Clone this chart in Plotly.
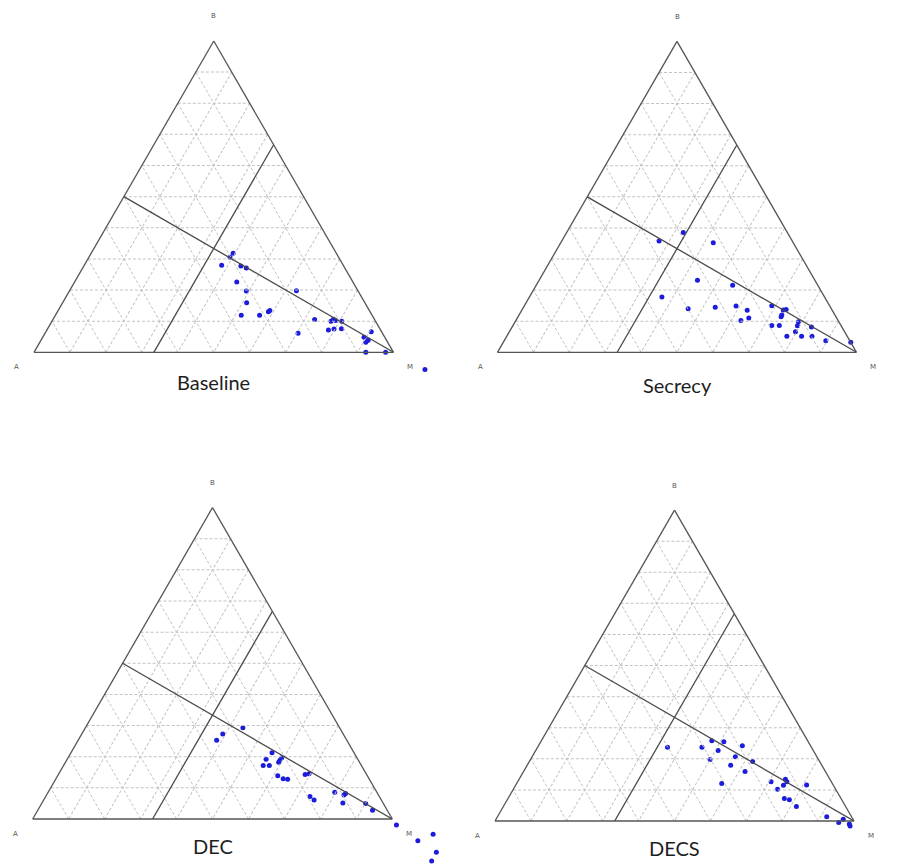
import math
import plotly.graph_objects as go

FIG_W, FIG_H = 901, 865

panel_names = ["Baseline", "Secrecy", "DEC", "DECS"]

# Ternary components per panel: A (bottom-left), B (top), M (bottom-right)
baseline_A = [0.287, 0.302, 0.338, 0.286, 0.274, 0.323, 0.311, 0.329, 0.364, 0.313, 0.283, 0.277, 0.171, 0.167, 0.235,
              0.145, 0.124, 0.114, 0.110, 0.094, 0.128, 0.107, 0.029, 0.058, 0.051, 0.061, 0.077, 0.022, -0.060]
baseline_B = [0.318, 0.305, 0.280, 0.277, 0.271, 0.226, 0.197, 0.159, 0.119, 0.119, 0.130, 0.134, 0.198, 0.105, 0.061,
              0.072, 0.100, 0.106, 0.102, 0.100, 0.075, 0.076, 0.066, 0.048, 0.039, 0.032, 0.000, 0.000, -0.055]
baseline_M = [0.395, 0.393, 0.382, 0.437, 0.455, 0.451, 0.492, 0.512, 0.517, 0.568, 0.587, 0.589, 0.631, 0.728, 0.704,
              0.783, 0.776, 0.780, 0.788, 0.806, 0.797, 0.817, 0.905, 0.894, 0.910, 0.907, 0.923, 0.978, 1.115]

secrecy_A = [0.290, 0.371, 0.223, 0.327, 0.237, 0.453, 0.399, 0.321, 0.261, 0.237, 0.245, 0.271, 0.161, 0.136,
             0.127, 0.148, 0.153, 0.193, 0.172, 0.113, 0.122, 0.085, 0.137, 0.168, 0.127, 0.098, 0.067, 0.000]
secrecy_B = [0.385, 0.358, 0.352, 0.232, 0.216, 0.178, 0.140, 0.145, 0.149, 0.135, 0.110, 0.102, 0.150, 0.136,
             0.138, 0.120, 0.114, 0.086, 0.086, 0.098, 0.085, 0.081, 0.066, 0.052, 0.052, 0.052, 0.037, 0.032]
secrecy_M = [0.325, 0.271, 0.425, 0.441, 0.547, 0.369, 0.461, 0.534, 0.590, 0.628, 0.645, 0.627, 0.689, 0.728,
             0.735, 0.732, 0.733, 0.721, 0.742, 0.789, 0.793, 0.834, 0.797, 0.780, 0.821, 0.850, 0.896, 0.968]

dec_A = [0.269, 0.335, 0.362, 0.228, 0.255, 0.209, 0.218, 0.225, 0.273, 0.256, 0.249, 0.239, 0.227, 0.171,
         0.159, 0.193, 0.187, 0.117, 0.096, 0.089, 0.112, 0.049, 0.041, -0.002, -0.036, -0.089, -0.069, -0.042]
dec_B = [0.293, 0.273, 0.253, 0.213, 0.192, 0.197, 0.189, 0.182, 0.172, 0.172, 0.139, 0.129, 0.128, 0.143,
         0.145, 0.072, 0.061, 0.086, 0.077, 0.082, 0.051, 0.050, 0.028, -0.019, -0.070, -0.049, -0.107, -0.135]
dec_M = [0.438, 0.392, 0.385, 0.559, 0.553, 0.594, 0.593, 0.593, 0.555, 0.572, 0.612, 0.632, 0.645, 0.686,
         0.696, 0.735, 0.752, 0.797, 0.827, 0.829, 0.837, 0.901, 0.931, 1.021, 1.106, 1.138, 1.176, 1.177]

decs_A = [0.401, 0.305, 0.267, 0.235, 0.265, 0.190, 0.302, 0.227, 0.254, 0.187, 0.224, 0.308, 0.168,
          0.124, 0.124, 0.139, 0.162, 0.074, 0.158, 0.146, 0.137, 0.069, 0.045, 0.027, 0.018, 0.019]
decs_B = [0.237, 0.237, 0.258, 0.255, 0.227, 0.242, 0.198, 0.207, 0.179, 0.191, 0.159, 0.121, 0.126,
          0.134, 0.126, 0.115, 0.102, 0.116, 0.072, 0.068, 0.047, 0.014, -0.005, 0.006, -0.010, -0.016]
decs_M = [0.362, 0.458, 0.475, 0.510, 0.508, 0.568, 0.500, 0.566, 0.567, 0.622, 0.617, 0.571, 0.706,
          0.742, 0.750, 0.746, 0.736, 0.810, 0.770, 0.786, 0.816, 0.917, 0.960, 0.967, 0.992, 0.997]

# Reference lines: A = B (from mid of A-B edge to M) and M = 1/3
line1_A = [0.5, 0.0]
line1_B = [0.5, 0.0]
line1_M = [0.0, 1.0]
line2_A = [2 / 3, 0.0]
line2_B = [0.0, 2 / 3]
line2_M = [1 / 3, 1 / 3]

panels = [
    (baseline_A, baseline_B, baseline_M),
    (secrecy_A, secrecy_B, secrecy_M),
    (dec_A, dec_B, dec_M),
    (decs_A, decs_B, decs_M),
]

# Triangle placement in pixels: (x of A corner, base y, side length)
geom = [
    (34.0, 352.3, 359.5),
    (497.5, 352.3, 359.0),
    (32.7, 819.0, 359.6),
    (495.0, 821.0, 359.0),
]
# Extent of the projected overlay axes (so outlying points stay visible)
xr = [(-0.05, 1.15), (-0.05, 1.05), (-0.05, 1.15), (-0.05, 1.05)]
yr = (-0.14, 1.02)
title_y = [382.5, 384.5, 846.0, 848.0]
S3 = math.sqrt(3) / 2

fig = go.Figure()
annotations = []
layout_kw = {}

for i, ((pa, pb, pm), (xa, yb, side)) in enumerate(zip(panels, geom)):
    h = side * S3
    yt = yb - h
    tid = "ternary" if i == 0 else f"ternary{i + 1}"
    for la, lb, lm in [(line1_A, line1_B, line1_M), (line2_A, line2_B, line2_M)]:
        fig.add_trace(go.Scatterternary(
            a=lb, b=la, c=lm, mode="lines", subplot=tid,
            line=dict(color="#4a4a4a", width=1.3), showlegend=False, hoverinfo="skip"))

    axis_common = dict(
        min=0, dtick=0.1, showticklabels=False, ticks="", title=dict(text=""),
        showgrid=True, gridcolor="#c2c2c2", gridwidth=1, griddash="3px,2px",
        showline=True, linecolor="#555555", linewidth=1.3, layer="below traces")
    layout_kw[tid] = dict(
        sum=1,
        domain=dict(x=[xa / FIG_W, (xa + side) / FIG_W], y=[1 - yb / FIG_H, 1 - yt / FIG_H]),
        bgcolor="rgba(0,0,0,0)",
        aaxis=axis_common, baxis=axis_common, caxis=axis_common)

    # Projected overlay axes for the scatter points (x = M + B/2, y = B)
    n = "" if i == 0 else str(i + 1)
    x0, x1 = xr[i]
    layout_kw[f"xaxis{n}"] = dict(
        range=[x0, x1], visible=False, fixedrange=True,
        domain=[(xa + x0 * side) / FIG_W, (xa + x1 * side) / FIG_W],
        anchor=f"y{n}")
    layout_kw[f"yaxis{n}"] = dict(
        range=list(yr), visible=False, fixedrange=True,
        domain=[max(0.0, 1 - (yb - yr[0] * h) / FIG_H), 1 - (yb - yr[1] * h) / FIG_H],
        anchor=f"x{n}")
    fig.add_trace(go.Scatter(
        x=[m + b / 2 for b, m in zip(pb, pm)], y=pb,
        customdata=list(zip(pa, pb, pm)),
        hovertemplate="A=%{customdata[0]}<br>B=%{customdata[1]}<br>M=%{customdata[2]}<extra></extra>",
        mode="markers", xaxis=f"x{n}", yaxis=f"y{n}", cliponaxis=False,
        marker=dict(size=5, color="rgb(28,28,220)", line=dict(width=0)),
        showlegend=False))

    xc = xa + side / 2
    vfont = dict(family="DejaVu Sans", size=7, color="#555555")
    for txt, px, py in [("B", xc, yt - 24.5), ("A", xa - 17.5, yb + 14.5), ("M", xa + side + 16.5, yb + 14.5)]:
        annotations.append(dict(text=txt, x=px / FIG_W, y=1 - py / FIG_H, xref="paper", yref="paper",
                                showarrow=False, font=vfont, xanchor="center", yanchor="middle"))
    annotations.append(dict(text=panel_names[i], x=xc / FIG_W, y=1 - title_y[i] / FIG_H,
                            xref="paper", yref="paper", showarrow=False,
                            font=dict(family="Lato", size=20, color="#1e1e1e"),
                            xanchor="center", yanchor="middle"))

fig.update_layout(
    width=FIG_W, height=FIG_H,
    margin=dict(l=0, r=0, t=0, b=0),
    paper_bgcolor="white", plot_bgcolor="rgba(0,0,0,0)",
    annotations=annotations,
    **layout_kw)

fig.write_html("out.html", config={"displayModeBar": False},
               post_script="document.body.style.margin='0px';")
